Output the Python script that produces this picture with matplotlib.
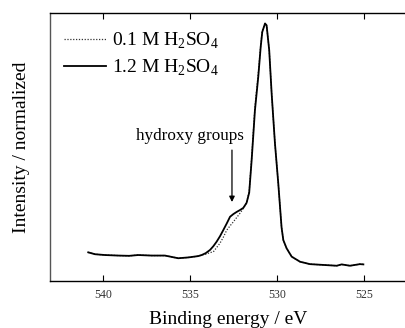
import matplotlib
matplotlib.use("Agg")
import matplotlib.pyplot as plt

energy = [540.85, 540.46, 539.89, 539.12, 538.5, 537.98, 537.21, 536.44, 535.68,
          535.10, 534.53, 534.33, 534.10, 533.85, 533.66, 533.47, 533.28, 533.09,
          532.89, 532.70, 532.51, 532.32, 532.13, 531.94, 531.75, 531.60, 531.46,
          531.27, 531.08, 530.94, 530.85, 530.69, 530.60, 530.45, 530.31, 530.12,
          529.93, 529.83, 529.74, 529.64, 529.45, 529.16, 528.68, 528.11, 527.34,
          526.57, 526.29, 525.81, 525.24, 525.04]
solid_12M = [0.107, 0.100, 0.097, 0.095, 0.094, 0.097, 0.095, 0.095, 0.085,
             0.088, 0.093, 0.097, 0.104, 0.116, 0.130, 0.147, 0.167, 0.190,
             0.215, 0.240, 0.250, 0.258, 0.265, 0.273, 0.292, 0.330, 0.451,
             0.638, 0.762, 0.874, 0.930, 0.962, 0.955, 0.862, 0.700, 0.514,
             0.365, 0.278, 0.200, 0.153, 0.122, 0.091, 0.072, 0.063, 0.060,
             0.057, 0.062, 0.057, 0.063, 0.062]
dotted_01M = [0.107, 0.100, 0.097, 0.095, 0.094, 0.097, 0.095, 0.095, 0.085,
              0.088, 0.093, 0.097, 0.100, 0.106, 0.109, 0.125, 0.141, 0.163,
              0.190, 0.206, 0.221, 0.237, 0.253, 0.271, 0.292, 0.335, 0.460,
              0.650, 0.775, 0.880, 0.935, 0.962, 0.955, 0.862, 0.700, 0.514,
              0.365, 0.278, 0.200, 0.153, 0.122, 0.091, 0.072, 0.063, 0.060,
              0.057, 0.062, 0.057, 0.063, 0.062]
xticks = [540, 535, 530, 525]

plt.rcParams['font.family'] = ['Liberation Serif', 'DejaVu Serif']
plt.rcParams['mathtext.fontset'] = 'custom'
plt.rcParams['mathtext.rm'] = 'Liberation Serif'

fig = plt.figure(figsize=(4.06, 3.28), dpi=100)
ax = fig.add_axes([0.123, 0.1433, 0.877, 0.8162])

ax.plot(energy, dotted_01M, color='#333333', lw=0.9, linestyle=(0, (1, 1.3)),
        label='0.1 M H$_2$SO$_4$')
ax.plot(energy, solid_12M, color='black', lw=1.3, label='1.2 M H$_2$SO$_4$')

ax.set_xlim(543.05, 522.59)
ax.set_ylim(0, 1)
ax.set_xticks(xticks)
ax.set_xticklabels([str(t) for t in xticks], fontsize=8.5, color='#333333')
ax.set_yticks([])
ax.tick_params(axis='x', direction='in', top=True, bottom=True, length=4, width=0.8, pad=6)
ax.spines['right'].set_visible(False)
for s in ['left', 'top', 'bottom']:
    ax.spines[s].set_linewidth(1.0)
ax.spines['left'].set_color('#555555')

ax.set_xlabel('Binding energy / eV', fontsize=14, labelpad=7)
ax.set_ylabel('Intensity / normalized', fontsize=14, labelpad=14)

leg = ax.legend(loc='upper left', frameon=False, fontsize=14, handlelength=2.2,
                handletextpad=0.3, labelspacing=0.35, borderaxespad=0.3,
                bbox_to_anchor=(0.0, 0.985))

ax.annotate('', xy=(532.59, 0.295), xytext=(532.59, 0.489),
            arrowprops=dict(arrowstyle='-|>', color='black', lw=0.9,
                            mutation_scale=8, shrinkA=0, shrinkB=0))
ax.text(535.0, 0.541, 'hydroxy groups', fontsize=12.3, ha='center', va='center')

fig.savefig('out.png', dpi=100)
